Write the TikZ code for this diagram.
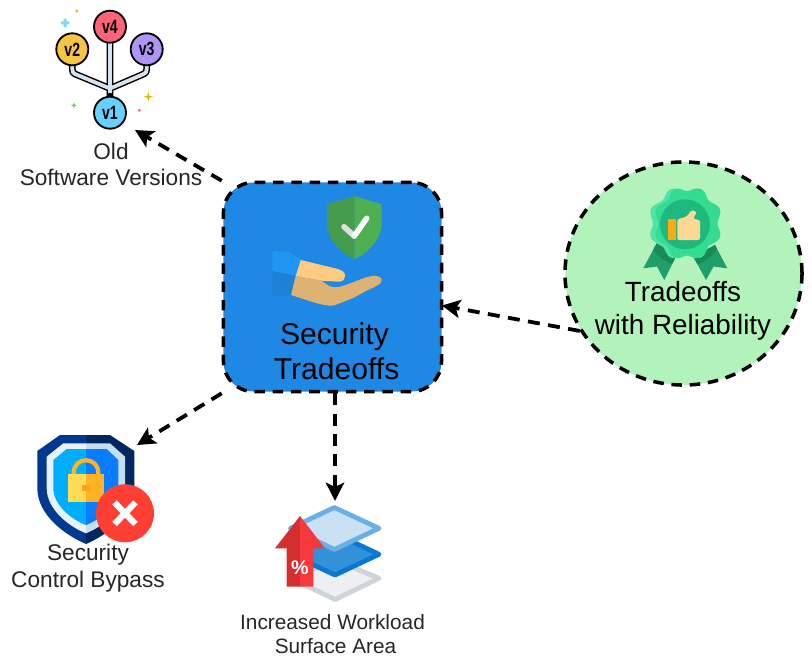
\documentclass[tikz,border=0pt]{standalone}
\usepackage{fontspec}
\setmainfont{Liberation Sans}
\usetikzlibrary{arrows.meta,positioning,shapes.geometric,calc}
\definecolor{boxblue}{HTML}{1F88E5}
\definecolor{okgreen}{HTML}{B2F2BB}
\definecolor{softtext}{HTML}{262626}
\definecolor{tubefill}{HTML}{D5E3EE}
\definecolor{vred}{HTML}{FF6378}
\definecolor{vyellow}{HTML}{F6C544}
\definecolor{vpurple}{HTML}{B095F5}
\definecolor{vblue}{HTML}{66D0FF}
\definecolor{shieldl}{HTML}{459C4D}
\definecolor{shieldr}{HTML}{4CAF50}
\definecolor{cuffup}{HTML}{1E96F3}
\definecolor{cufflow}{HTML}{1D82D4}
\definecolor{palm}{HTML}{DDB272}
\definecolor{finger}{HTML}{FFCB80}
\definecolor{ribbon}{HTML}{1E9E68}
\definecolor{ribbondark}{HTML}{178A58}
\definecolor{badge}{HTML}{33DC90}
\definecolor{badgelight}{HTML}{4FE3A5}
\definecolor{badgeinner}{HTML}{1FB97F}
\definecolor{thumbskin}{HTML}{FFD795}
\definecolor{thumbcuff}{HTML}{FFA90F}
\definecolor{lockouterl}{HTML}{003A90}
\definecolor{lockouterr}{HTML}{00285F}
\definecolor{lockringl}{HTML}{E8F2FC}
\definecolor{lockringr}{HTML}{C5DFEE}
\definecolor{lockinnerl}{HTML}{00AEFF}
\definecolor{lockinnerr}{HTML}{0A7CFF}
\definecolor{lockyellow}{HTML}{FFDA55}
\definecolor{lockorange}{HTML}{FFB224}
\definecolor{keyhole}{HTML}{FF9F1C}
\definecolor{denyred}{HTML}{FF3F33}
\definecolor{layerlowline}{HTML}{CDD3D9}
\definecolor{layerlowfill}{HTML}{EDEFF2}
\definecolor{layermidline}{HTML}{0A78D2}
\definecolor{layermidfill}{HTML}{3391D9}
\definecolor{layertopline}{HTML}{6BB0E5}
\definecolor{layertopfill}{HTML}{C9E1F3}
\definecolor{arrowdark}{HTML}{D32F2F}
\definecolor{arrowlight}{HTML}{F5393D}
\newcommand{\verlab}[1]{\scalebox{0.95}[1.3]{#1}}

\begin{document}
\begin{tikzpicture}[
    x=0.025cm, y=-0.025cm,
    dashline/.style={line width=2.5pt, dash pattern=on 7.5pt off 5.5pt},
    edge/.style={line width=2.7pt, dash pattern=on 8.5pt off 6pt, -{Stealth[length=13pt,width=13pt,inset=3pt]}},
    mainbox/.style={rectangle, draw, dashline, fill=boxblue, rounded corners=0.75cm, minimum width=5.45cm, minimum height=5.225cm, inner sep=0pt},
    sidenode/.style={ellipse, draw, dashline, fill=okgreen, minimum width=5.925cm, minimum height=5.575cm, inner sep=0pt},
    biglabel/.style={align=center, font=\fontsize{21.4}{24.9}\selectfont},
    rellabel/.style={align=center, font=\fontsize{19.8}{23.3}\selectfont},
    smalllabel/.style={align=center, text=softtext, font=\fontsize{16.1}{18.9}\selectfont},
    tinylabel/.style={align=center, text=softtext, font=\fontsize{14.8}{17.4}\selectfont},
    vernode/.style={circle, draw, line width=1.3pt, minimum size=0.8cm, inner sep=0pt, font=\bfseries\fontsize{10.5}{10.5}\selectfont},
    tube/.style={line width=#1, line join=round}
]
\useasboundingbox (0,0) rectangle (812,667);

% Main boxes
\node[mainbox] (secbox) at (332.5,287) {};
\node[sidenode] (relell) at (683.5,273.5) {};

% Old versions icon
\draw[tube=4.8pt] (110,43) -- (110,97) (72.3,65) -- (72.3,69) .. controls (72.3,72) and (73,73) .. (75,74) -- (110,88.5) -- (143.7,74) .. controls (146,73) and (146.7,72) .. (146.7,69) -- (146.7,65);
\draw[tube=2.7pt, tubefill] (110,43) -- (110,93) (72.3,65) -- (72.3,69) .. controls (72.3,72) and (73,73) .. (75,74) -- (110,88.5) -- (143.7,74) .. controls (146,73) and (146.7,72) .. (146.7,69) -- (146.7,65);
\node[vernode, fill=vred] (vfour) at (110,26.7) {\verlab{v4}};
\node[vernode, fill=vyellow] (vtwo) at (72.3,49.3) {\verlab{v2}};
\node[vernode, fill=vpurple] (vthree) at (146.7,49.3) {\verlab{v3}};
\node[vernode, fill=vblue] (vone) at (110,112.7) {\verlab{v1}};
\fill[cyan!50!white] (63.7,18.5) rectangle (66.7,27) (61,21.3) rectangle (69.4,24.3);
\fill[orange!40!yellow!90!black] (76.7,11) circle (1.6);
\fill[orange!40!yellow!90!black] (148.3,92) -- (149.3,95.7) -- (153,96.7) -- (149.3,97.7) -- (148.3,101.5) -- (147.3,97.7) -- (143.5,96.7) -- (147.3,95.7) -- cycle;
\fill[green!70!black!60!white] (74,102) -- (74.8,104.5) -- (77,105.3) -- (74.8,106.1) -- (74,108.6) -- (73.2,106.1) -- (71,105.3) -- (73.2,104.5) -- cycle;
\fill[red!50!pink] (139.3,110.3) circle (1.6);

% Green shield and hand
\fill[shieldl] (354.3,196) -- (327,204.3) -- (327,223) .. controls (327,241) and (343,254) .. (354.3,259.3) -- cycle;
\fill[shieldr] (354.3,196) -- (381.7,204.3) -- (381.7,223) .. controls (381.7,241) and (366,254) .. (354.3,259.3) -- cycle;
\draw[line width=4pt, line cap=round, gray!25] (344,226.7) -- (354.3,236);
\draw[line width=4pt, line cap=round, white] (354.3,236) -- (366.7,218.3);
\fill[cuffup] (272.3,251) -- (288.3,251.7) -- (300.7,259.3) -- (295.7,276) -- (272.3,271) -- cycle;
\fill[cufflow] (272.3,271) -- (295.7,276) -- (291,295) -- (272.3,296) -- cycle;
\fill[palm] (291,295) -- (295.7,276) -- (321.7,280.7) .. controls (327,285) and (330,287) .. (335,287.3) .. controls (345,287) and (358,279) .. (371.7,276) .. controls (378,275) and (382,278) .. (381.7,280) .. controls (381,284) and (378,285) .. (375,286.7) .. controls (365,291) and (358,296) .. (348.3,300) .. controls (340,303) and (335,305.7) .. (331.7,305.7) .. controls (325,305.7) and (320,304) .. (315,302.7) -- cycle;
\fill[finger] (300.7,260) -- (335,268.3) .. controls (342,270) and (345,272) .. (345,275) .. controls (345,279) and (343,281.7) .. (339,281.7) -- (321.7,280.7) -- (295.7,276) -- cycle;

% Ribbon badge
\fill[ribbon] (656.7,243.3) -- (643.3,268.3) -- (657,266.5) -- (664.3,280) -- (676.7,255) -- cycle;
\fill[ribbon] (715,245) -- (727.3,268.3) -- (713.5,266.5) -- (706,280) -- (693.3,256.7) -- cycle;
\begin{scope}
    \clip (656.7,243.3) -- (643.3,268.3) -- (657,266.5) -- (664.3,280) -- (676.7,255) -- cycle (715,245) -- (727.3,268.3) -- (713.5,266.5) -- (706,280) -- (693.3,256.7) -- cycle;
    \fill[ribbondark] (685,228.3) circle (38);
\end{scope}
\fill[badgelight] plot[domain=0:360, samples=120, smooth] ({685+(34.5-2.5*cos(8*\x))*cos(\x)},{223.3+(34.5-2.5*cos(8*\x))*sin(\x)}) -- cycle;
\fill[badge] plot[domain=0:360, samples=120, smooth] ({688+(32-2.5*cos(8*\x))*cos(\x)},{223.3+(34.5-2.5*cos(8*\x))*sin(\x)}) -- cycle;
\fill[badgeinner] (685,224.3) circle (25);
\fill[thumbcuff] (667.7,219.3) rectangle (676,240);
\fill[thumbskin, rounded corners=1.5pt] (677.3,219.3) -- (686.7,216.7) -- (691.7,210) -- (696.7,211.7) -- (693.3,219) -- (700,220) -- (700,240) -- (677.3,240) -- cycle;

% Lock shield
\fill[lockouterl] (86,435) -- (60,435) -- (37.3,451) -- (37.3,488) .. controls (37.3,515) and (65,535) .. (86,544) -- cycle;
\fill[lockouterr] (86,435) -- (110,435) -- (134.3,451) -- (134.3,488) .. controls (134.3,515) and (107,535) .. (86,544) -- cycle;
\fill[lockringl] (86,443.3) -- (63.3,443.3) -- (46.7,456.7) -- (46.7,488) .. controls (46.7,510) and (70,527) .. (86,533.3) -- cycle;
\fill[lockringr] (86,443.3) -- (110,443.3) -- (125,456.7) -- (125,488) .. controls (125,510) and (102,527) .. (86,533.3) -- cycle;
\fill[lockinnerl] (86,449) -- (66.7,449) -- (53.3,460) -- (53.3,488) .. controls (53.3,505) and (72,520) .. (86,525) -- cycle;
\fill[lockinnerr] (86,449) -- (106.7,449) -- (118.3,460) -- (118.3,488) .. controls (118.3,505) and (100,520) .. (86,525) -- cycle;
\draw[line width=3pt, lockorange] (73.7,475) -- (73.7,473) .. controls (73.7,456) and (98.3,456) .. (98.3,473) -- (98.3,475);
\fill[lockyellow] (68.3,474.3) rectangle (86,501.7);
\fill[lockorange] (86,474.3) rectangle (104,501.7);
\fill[keyhole] (82.3,485) rectangle (89.3,491);
\fill[denyred] (125,513.3) circle (29);
\draw[line width=4.4pt, white] (114.5,502.5) -- (135.5,524) (135.5,502.5) -- (114.5,524);

% Layers icon
\draw[line width=3.4pt, line join=round, layerlowline, fill=layerlowfill] (379,578.3) -- (335,599.5) -- (291,578.3) -- (335,560) -- cycle;
\draw[line width=3.4pt, line join=round, layermidline, fill=layermidfill] (379,554.3) -- (335,575) -- (291,554.3) -- (335,533.5) -- cycle;
\draw[line width=3.4pt, line join=round, layertopline, fill=layertopfill] (379,528.3) -- (334.3,549.5) -- (290.3,528.3) -- (334.3,507.5) -- cycle;
\fill[arrowdark] (300,516) -- (275,548.3) -- (286.7,548.3) -- (286.7,586.7) -- (300,586.7) -- cycle;
\fill[arrowlight] (300,516) -- (325,548.3) -- (313.3,548.3) -- (313.3,586.7) -- (300,586.7) -- cycle;
\node[text=white, font=\bfseries\fontsize{14}{14}\selectfont, inner sep=0pt] (pct) at (300,567.3) {\%};

% Labels
\node[biglabel] (seclabel) at (334.5,351.5) {Security\hspace{5pt}\\\hspace*{3pt}Tradeoffs};
\node[rellabel] (rellbl) at (683,311) {Tradeoffs\\with Reliability};
\node[smalllabel] (oldlabel) at (111,164.5) {Old\\Software Versions};
\node[smalllabel] (ctrllabel) at (88,568) {Security\\Control Bypass};
\node[tinylabel] (arealabel) at (332.5,634) {Increased Workload\\\hspace*{4.3pt}Surface Area};

% Arrows
\coordinate (oldtip) at (135,130);
\coordinate (ctrltip) at (137,445);
\coordinate (areatip) at (335,501);
\coordinate (sectip) at (442,305.5);
\draw[edge] (secbox.north west) -- (oldtip);
\draw[edge] (secbox.south west) -- (ctrltip);
\draw[edge] (secbox.south -| areatip) -- (areatip);
\draw[edge] (relell.209) -- (sectip);
\end{tikzpicture}
\end{document}
